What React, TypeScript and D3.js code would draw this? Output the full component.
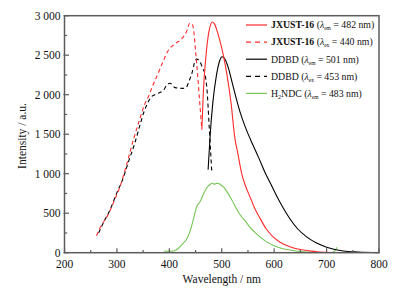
import React from "react";
import * as d3 from "d3";

// ---- data (wavelength nm, intensity a.u.) ----
const jxustExWl = [261, 270, 283, 295, 306, 317, 331, 344, 353, 360, 368, 376, 388, 398, 410, 424, 433, 439, 444, 447, 450, 454, 458, 462];
const jxustExI = [215, 340, 480, 660, 840, 1080, 1420, 1700, 1880, 1975, 2110, 2230, 2420, 2560, 2640, 2710, 2800, 2905, 2890, 2780, 2560, 2250, 1900, 1560];

const jxustEmWl = [462, 465, 470, 475, 479, 482, 486, 490, 495, 503, 510, 518, 525, 530, 538, 545, 554, 563, 573, 585, 598, 612, 630, 650, 681, 712];
const jxustEmI = [1560, 2050, 2500, 2780, 2890, 2920, 2900, 2830, 2720, 2500, 2250, 1880, 1450, 1280, 1005, 850, 705, 560, 435, 300, 200, 130, 76, 40, 13, 3];

const ddbdEmWl = [474, 478, 483, 490, 496, 501, 507, 513, 520, 527, 535, 545, 555, 570, 583, 595, 605, 617, 630, 645, 662, 680, 700, 732, 760, 800];
const ddbdEmI = [1050, 1500, 1900, 2250, 2430, 2480, 2440, 2330, 2150, 1970, 1780, 1590, 1430, 1210, 1010, 850, 715, 570, 430, 300, 200, 125, 70, 22, 8, 0];

const ddbdExWl = [265, 275, 288, 300, 310, 322, 334, 345, 352, 359, 366, 376, 389, 395, 401, 411, 425, 432, 438, 443, 448, 452, 458, 464, 468, 472, 476, 479, 481];
const ddbdExI = [250, 390, 560, 760, 910, 1150, 1385, 1640, 1790, 1900, 1975, 2010, 2060, 2120, 2145, 2090, 2080, 2090, 2180, 2270, 2400, 2450, 2420, 2330, 2260, 2050, 1600, 1250, 1020];

const h2ndcWl = [390, 400, 410, 418, 425, 433, 440, 447, 452, 459, 465, 471, 477, 482, 486, 490, 494, 498, 503, 510, 519, 527, 535, 545, 554, 563, 573, 585, 598, 612, 630, 650, 668, 690, 710, 715, 720];
const h2ndcI = [18, 18, 25, 60, 110, 170, 280, 450, 580, 650, 740, 815, 860, 880, 866, 878, 875, 860, 835, 770, 670, 570, 480, 400, 320, 260, 200, 140, 95, 60, 34, 15, 5, 2, 3, 20, 70];

const xTicks = [200, 300, 400, 500, 600, 700, 800];
const yTicks = [0, 500, 1000, 1500, 2000, 2500, 3000];
const yTickLabels = ["0", "500", "1 000", "1 500", "2 000", "2 500", "3 000"];

const RED = "#ff2a2a";
const GREEN = "#74c655";
const FRAME = "#5c5c5c";
const FONT = "'Liberation Serif', 'Times New Roman', serif";

const x = d3.scaleLinear().domain([200, 800]).range([64.5, 379]);
const y = d3.scaleLinear().domain([0, 3000]).range([252.7, 15.7]);

function toPts(wl: number[], v: number[]): [number, number][] {
  return wl.map((w, i) => [w, v[i]]);
}

const line = d3
  .line<[number, number]>()
  .x((d) => x(d[0]))
  .y((d) => y(d[1]))
  .curve(d3.curveMonotoneX);

const series = [
  { pts: toPts(h2ndcWl, h2ndcI), color: GREEN, dash: undefined },
  { pts: toPts(ddbdEmWl, ddbdEmI), color: "#000", dash: undefined },
  { pts: toPts(ddbdExWl, ddbdExI), color: "#000", dash: "4,3" },
  { pts: toPts(jxustEmWl, jxustEmI), color: RED, dash: undefined },
  { pts: toPts(jxustExWl, jxustExI), color: RED, dash: "4,3" },
];

type LegendItem = { color: string; dash?: string; name: string; bold: boolean; sub: string; val: string };
const legendItems: LegendItem[] = [
  { color: RED, name: "JXUST-16", bold: true, sub: "em", val: "482" },
  { color: RED, dash: "4,3", name: "JXUST-16", bold: true, sub: "ex", val: "440" },
  { color: "#000", name: "DDBD", bold: false, sub: "em", val: "501" },
  { color: "#000", dash: "4,3", name: "DDBD", bold: false, sub: "ex", val: "453" },
  { color: GREEN, name: "H2NDC", bold: false, sub: "em", val: "483" },
];

export default function App() {
  const xMinor = d3.range(250, 800, 100);
  const yMinor = d3.range(250, 3000, 500);
  const [x0, x1] = x.range();
  const [y0, y1] = y.range();
  return (
    <svg
      width={403}
      height={292}
      style={{ position: "absolute", left: 0, top: 0, background: "#fff" }}
      fontFamily={FONT}
    >
      {/* curves */}
      {series.map((s, i) => (
        <path
          key={i}
          d={line(s.pts) || ""}
          fill="none"
          stroke={s.color}
          strokeWidth={1.1}
          strokeDasharray={s.dash}
        />
      ))}
      {/* ticks */}
      {xTicks.map((t) => (
        <line key={"xt" + t} x1={x(t)} x2={x(t)} y1={y0} y2={y0 - 4.5} stroke={FRAME} strokeWidth={1.2} />
      ))}
      {xMinor.map((t) => (
        <line key={"xm" + t} x1={x(t)} x2={x(t)} y1={y0} y2={y0 - 2.7} stroke={FRAME} strokeWidth={1.2} />
      ))}
      {yTicks.map((t) => (
        <line key={"yt" + t} x1={x0 - 1} x2={x0 + 4.5} y1={y(t)} y2={y(t)} stroke={FRAME} strokeWidth={1.2} />
      ))}
      {yMinor.map((t) => (
        <line key={"ym" + t} x1={x0} x2={x0 + 2.7} y1={y(t)} y2={y(t)} stroke={FRAME} strokeWidth={1.2} />
      ))}
      {/* frame */}
      <rect x={x0} y={y1} width={x1 - x0} height={y0 - y1} fill="none" stroke={FRAME} strokeWidth={1.5} />
      {/* tick labels */}
      {xTicks.map((t) => (
        <text key={"xl" + t} x={x(t)} y={267.5} textAnchor="middle" fontSize={11.5} fill="#111">
          {t}
        </text>
      ))}
      {yTicks.map((t, i) => (
        <text key={"yl" + t} x={60.5} y={y(t) + 3.8} textAnchor="end" fontSize={11.5} fill="#111">
          {yTickLabels[i]}
        </text>
      ))}
      {/* axis titles */}
      <text x={(x0 + x1) / 2} y={283} textAnchor="middle" fontSize={11.5} fill="#111">
        Wavelength / nm
      </text>
      <text
        transform={`translate(26,136) rotate(-90)`}
        textAnchor="middle"
        fontSize={11.5}
        fill="#111"
      >
        Intensity / a.u.
      </text>
      {/* legend */}
      {legendItems.map((it, i) => {
        const cy = 25 + i * 17.1;
        return (
          <g key={"lg" + i}>
            <line x1={246} x2={267} y1={cy} y2={cy} stroke={it.color} strokeWidth={1.2} strokeDasharray={it.dash ? "5,4" : undefined} />
            <text x={271} y={cy + 3.3} fontSize={9.8} fill="#111">
              {it.name === "H2NDC" ? (
                <>
                  <tspan>H</tspan>
                  <tspan fontSize={6} dy={2}>2</tspan>
                  <tspan dy={-2}>NDC</tspan>
                </>
              ) : (
                <tspan fontWeight={it.bold ? "bold" : "normal"}>{it.name}</tspan>
              )}
              <tspan> (</tspan>
              <tspan fontStyle="italic">λ</tspan>
              <tspan fontSize={5.5} dy={2}>{it.sub}</tspan>
              <tspan dy={-2}>{` = ${it.val} nm)`}</tspan>
            </text>
          </g>
        );
      })}
    </svg>
  );
}
